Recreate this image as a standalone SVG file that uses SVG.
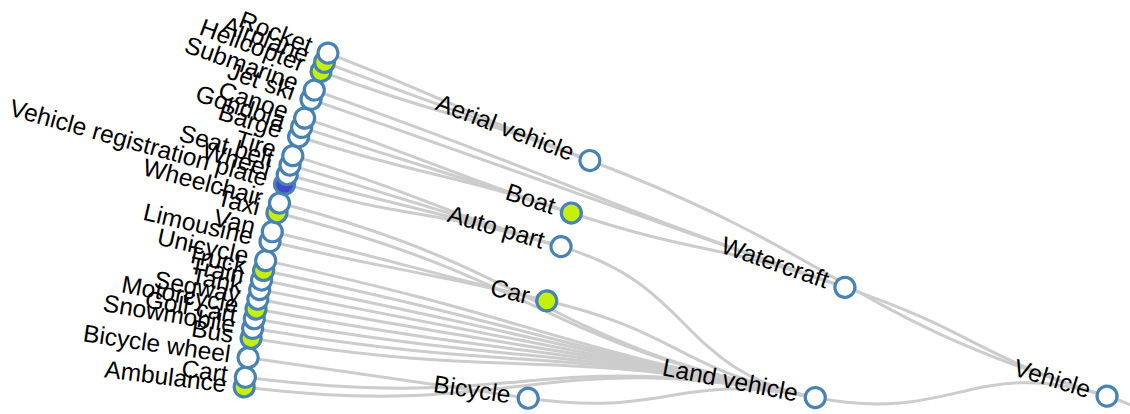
<svg xmlns="http://www.w3.org/2000/svg" width="1130" height="414" viewBox="0 0 1130 414">
  <style>
    .link { fill: none; stroke: #ccc; stroke-width: 3; }
    .node circle { fill: #fff; stroke: #4682b4; stroke-width: 3.2; }
    .node.hit circle { fill: #c4f00c; }
    .node.sel circle { fill: #4048d0; }
    .node text { font-family: "Liberation Sans", Arial, sans-serif; font-size: 24.5px; fill: #000; text-anchor: end; }
  </style>
  <rect width="1130" height="414" fill="#fff"/>
  <!-- radial cluster: centre of the rings, leaves at r=1402, then 1119, 836, 553 -->
  <g transform="translate(1635.6,558.8)">
    <g id="links">
      <!-- leaf -> parent, each drawn in the frame of the child's angle -->
      <path class="link" transform="rotate(187.04)" d="M1402,0C1119,0 1116.16,79.62 833.88,59.48"/>
      <path class="link" transform="rotate(187.44)" d="M1402,0C1119,0 1116.69,71.82 834.28,53.66"/>
      <path class="link" transform="rotate(188.25)" d="M1402,0L1119,0"/>
      <path class="link" transform="rotate(189.05)" d="M1402,0C1119,0 1118.27,40.42 835.45,30.2"/>
      <path class="link" transform="rotate(189.46)" d="M1402,0C1119,0 1118.53,32.42 835.65,24.22"/>
      <path class="link" transform="rotate(189.86)" d="M1402,0C1119,0 1118.73,24.61 835.8,18.38"/>
      <path class="link" transform="rotate(190.26)" d="M1402,0C1119,0 1118.87,16.8 835.91,12.55"/>
      <path class="link" transform="rotate(190.67)" d="M1402,0C1119,0 1118.97,8.79 835.97,6.57"/>
      <path class="link" transform="rotate(191.07)" d="M1402,0C1119,0 1119,0.98 836,0.73"/>
      <path class="link" transform="rotate(191.47)" d="M1402,0C1119,0 1118.98,-6.84 835.98,-5.11"/>
      <path class="link" transform="rotate(191.87)" d="M1402,0C1119,0 1118.9,-14.65 835.93,-10.94"/>
      <path class="link" transform="rotate(192.28)" d="M1402,0C1119,0 1118.77,-22.65 835.83,-16.92"/>
      <path class="link" transform="rotate(193.08)" d="M1402,0C1260.5,0 1260.49,5.5 1118.99,4.88"/>
      <path class="link" transform="rotate(193.49)" d="M1402,0C1260.5,0 1260.5,-3.52 1119,-3.13"/>
      <path class="link" transform="rotate(194.29)" d="M1402,0C1119,0 1117.29,-61.88 834.72,-46.23"/>
      <path class="link" transform="rotate(194.7)" d="M1402,0C1119,0 1116.82,-69.87 834.37,-52.2"/>
      <path class="link" transform="rotate(195.5)" d="M1402,0C1260.5,0 1260.41,15.4 1118.92,13.67"/>
      <path class="link" transform="rotate(195.9)" d="M1402,0C1260.5,0 1260.48,6.6 1118.98,5.86"/>
      <path class="link" transform="rotate(196.31)" d="M1402,0C1260.5,0 1260.5,-2.42 1119,-2.15"/>
      <path class="link" transform="rotate(196.71)" d="M1402,0C1260.5,0 1260.45,-11.22 1118.96,-9.96"/>
      <path class="link" transform="rotate(197.52)" d="M1402,0C1260.5,0 1260.46,10.56 1118.96,9.37"/>
      <path class="link" transform="rotate(197.92)" d="M1402,0C1260.5,0 1260.5,1.76 1119,1.56"/>
      <path class="link" transform="rotate(198.32)" d="M1402,0C1260.5,0 1260.48,-7.04 1118.98,-6.25"/>
      <path class="link" transform="rotate(199.13)" d="M1402,0C1119,0 1118.99,-3.52 836,-2.63"/>
      <path class="link" transform="rotate(199.53)" d="M1402,0C1119,0 1118.94,-11.33 835.96,-8.46"/>
      <path class="link" transform="rotate(200.34)" d="M1402,0C1260.5,0 1260.45,11.22 1118.96,9.96"/>
      <path class="link" transform="rotate(200.74)" d="M1402,0C1260.5,0 1260.5,2.42 1119,2.15"/>
      <path class="link" transform="rotate(201.14)" d="M1402,0C1260.5,0 1260.48,-6.38 1118.99,-5.66"/>
      <!-- inner links -->
      <path class="link" transform="rotate(188.25)" d="M1119,0C977.5,0 976.27,48.94 834.95,41.86"/>
      <path class="link" transform="rotate(193.33)" d="M1119,0C977.5,0 976.77,-37.69 835.38,-32.24"/>
      <path class="link" transform="rotate(196.2)" d="M1119,0C977.5,0 973.66,-86.55 832.72,-74.03"/>
      <path class="link" transform="rotate(198)" d="M1119,0C977.5,0 977.37,16.21 835.89,13.86"/>
      <path class="link" transform="rotate(200.85)" d="M1119,0C836,0 834.21,-54.68 551.82,-36.17"/>
      <path class="link" transform="rotate(191.12)" d="M836,0C694.5,0 690.72,72.35 549.99,57.61"/>
      <path class="link" transform="rotate(198.95)" d="M836,0C694.5,0 694.14,-22.42 552.71,-17.85"/>
      <path class="link" transform="rotate(197.1)" d="M553,0C411.5,0 393.31,-121 258.06,-79.39"/>
    </g>
    <g id="nodes">
      <g id="ambulance" class="node hit" transform="rotate(187.04) translate(1402,0)"><circle r="10"/><text x="-18" dy=".31em" transform="rotate(180)">Ambulance</text></g>
      <g id="cart" class="node" transform="rotate(187.44) translate(1402,0)"><circle r="10"/><text x="-18" dy=".31em" transform="rotate(180)">Cart</text></g>
      <g id="bicycle-wheel" class="node" transform="rotate(188.25) translate(1402,0)"><circle r="10"/><text x="-18" dy=".31em" transform="rotate(180)">Bicycle wheel</text></g>
      <g id="bus" class="node hit" transform="rotate(189.05) translate(1402,0)"><circle r="10"/><text x="-18" dy=".31em" transform="rotate(180)">Bus</text></g>
      <g id="snowmobile" class="node" transform="rotate(189.46) translate(1402,0)"><circle r="10"/><text x="-18" dy=".31em" transform="rotate(180)">Snowmobile</text></g>
      <g id="golf-cart" class="node" transform="rotate(189.86) translate(1402,0)"><circle r="10"/><text x="-18" dy=".31em" transform="rotate(180)">Golf cart</text></g>
      <g id="motorcycle" class="node hit" transform="rotate(190.26) translate(1402,0)"><circle r="10"/><text x="-18" dy=".31em" transform="rotate(180)">Motorcycle</text></g>
      <g id="segway" class="node" transform="rotate(190.67) translate(1402,0)"><circle r="10"/><text x="-18" dy=".31em" transform="rotate(180)">Segway</text></g>
      <g id="tank" class="node" transform="rotate(191.07) translate(1402,0)"><circle r="10"/><text x="-18" dy=".31em" transform="rotate(180)">Tank</text></g>
      <g id="train" class="node" transform="rotate(191.47) translate(1402,0)"><circle r="10"/><text x="-18" dy=".31em" transform="rotate(180)">Train</text></g>
      <g id="truck" class="node hit" transform="rotate(191.87) translate(1402,0)"><circle r="10"/><text x="-18" dy=".31em" transform="rotate(180)">Truck</text></g>
      <g id="unicycle" class="node" transform="rotate(192.28) translate(1402,0)"><circle r="10"/><text x="-18" dy=".31em" transform="rotate(180)">Unicycle</text></g>
      <g id="limousine" class="node" transform="rotate(193.08) translate(1402,0)"><circle r="10"/><text x="-18" dy=".31em" transform="rotate(180)">Limousine</text></g>
      <g id="van" class="node" transform="rotate(193.49) translate(1402,0)"><circle r="10"/><text x="-18" dy=".31em" transform="rotate(180)">Van</text></g>
      <g id="taxi" class="node hit" transform="rotate(194.29) translate(1402,0)"><circle r="10"/><text x="-18" dy=".31em" transform="rotate(180)">Taxi</text></g>
      <g id="wheelchair" class="node" transform="rotate(194.7) translate(1402,0)"><circle r="10"/><text x="-18" dy=".31em" transform="rotate(180)">Wheelchair</text></g>
      <g id="registration-plate" class="node sel" transform="rotate(195.5) translate(1402,0)"><circle r="10"/><text x="-18" dy=".31em" transform="rotate(180)">Vehicle registration plate</text></g>
      <g id="wheel" class="node" transform="rotate(195.9) translate(1402,0)"><circle r="10"/><text x="-18" dy=".31em" transform="rotate(180)">Wheel</text></g>
      <g id="seat-belt" class="node" transform="rotate(196.31) translate(1402,0)"><circle r="10"/><text x="-18" dy=".31em" transform="rotate(180)">Seat belt</text></g>
      <g id="tire" class="node" transform="rotate(196.71) translate(1402,0)"><circle r="10"/><text x="-18" dy=".31em" transform="rotate(180)">Tire</text></g>
      <g id="barge" class="node" transform="rotate(197.52) translate(1402,0)"><circle r="10"/><text x="-18" dy=".31em" transform="rotate(180)">Barge</text></g>
      <g id="gondola" class="node" transform="rotate(197.92) translate(1402,0)"><circle r="10"/><text x="-18" dy=".31em" transform="rotate(180)">Gondola</text></g>
      <g id="canoe" class="node" transform="rotate(198.32) translate(1402,0)"><circle r="10"/><text x="-18" dy=".31em" transform="rotate(180)">Canoe</text></g>
      <g id="jet-ski" class="node" transform="rotate(199.13) translate(1402,0)"><circle r="10"/><text x="-18" dy=".31em" transform="rotate(180)">Jet ski</text></g>
      <g id="submarine" class="node" transform="rotate(199.53) translate(1402,0)"><circle r="10"/><text x="-18" dy=".31em" transform="rotate(180)">Submarine</text></g>
      <g id="helicopter" class="node hit" transform="rotate(200.34) translate(1402,0)"><circle r="10"/><text x="-18" dy=".31em" transform="rotate(180)">Helicopter</text></g>
      <g id="airplane" class="node hit" transform="rotate(200.74) translate(1402,0)"><circle r="10"/><text x="-18" dy=".31em" transform="rotate(180)">Airplane</text></g>
      <g id="rocket" class="node" transform="rotate(201.14) translate(1402,0)"><circle r="10"/><text x="-18" dy=".31em" transform="rotate(180)">Rocket</text></g>

      <g id="bicycle" class="node" transform="rotate(188.25) translate(1119,0)"><circle r="10"/><text x="-18" dy=".31em" transform="rotate(180)">Bicycle</text></g>
      <g id="car" class="node hit" transform="rotate(193.33) translate(1119,0)"><circle r="10"/><text x="-18" dy=".31em" transform="rotate(180)">Car</text></g>
      <g id="auto-part" class="node" transform="rotate(196.2) translate(1119,0)"><circle r="10"/><text x="-18" dy=".31em" transform="rotate(180)">Auto part</text></g>
      <g id="boat" class="node hit" transform="rotate(198) translate(1119,0)"><circle r="10"/><text x="-18" dy=".31em" transform="rotate(180)">Boat</text></g>
      <g id="aerial-vehicle" class="node" transform="rotate(200.85) translate(1119,0)"><circle r="10"/><text x="-18" dy=".31em" transform="rotate(180)">Aerial vehicle</text></g>
      <g id="land-vehicle" class="node" transform="rotate(191.12) translate(836,0)"><circle r="10"/><text x="-18" dy=".31em" transform="rotate(180)">Land vehicle</text></g>
      <g id="watercraft" class="node" transform="rotate(198.95) translate(836,0)"><circle r="10"/><text x="-18" dy=".31em" transform="rotate(180)">Watercraft</text></g>
      <g id="vehicle" class="node" transform="rotate(197.1) translate(553,0)"><circle r="10"/><text x="-18" dy=".31em" transform="rotate(180)">Vehicle</text></g>
    </g>
  </g>
</svg>
